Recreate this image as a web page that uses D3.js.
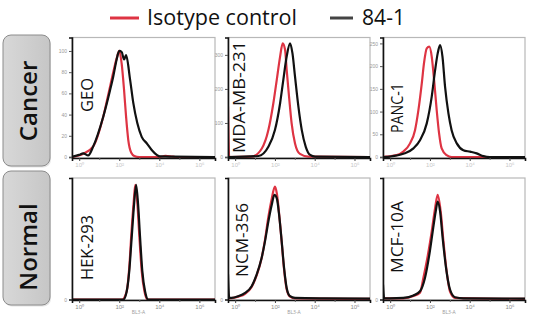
<!DOCTYPE html>
<html><head><meta charset="utf-8">
<script src="https://cdn.jsdelivr.net/npm/d3@7"></script>
<style>html,body{margin:0;padding:0;background:#fff;} svg{display:block;font-family:"Open Sans","Noto Sans",sans-serif;}</style>
</head><body><svg id="c" width="533" height="326"></svg>
<script>
// ---------------- DATA ----------------
const cellLines = ["GEO", "MDA-MB-231", "PANC-1", "HEK-293", "NCM-356", "MCF-10A"];
const groupNames = ["Cancer", "Normal"];
const seriesNames = ["Isotype control", "84-1"];
const xDomain = [-0.36, 6.78];               // log10 intensity (BL3-A)
const xTickValues = [0, 2, 4, 6];
const xMinorTicks = [1, 3, 5];
const xTickLabels = ["10⁰", "10²", "10⁴", "10⁶"];
const xAxisTitle = "BL3-A";

// y-axis maxima and ticks (counts / % of max) per panel
const yMax = [112.7, 351, 263, 106, 106, 106];
const yTicksGEO = [0, 20, 40, 60, 80, 100];
const yTicksMDA = [0, 100, 200, 300];
const yTicksPANC = [0, 50, 100, 150, 200, 250];
const yTicksNormal = [0];

// histograms: [log10 intensity, count]
const geoIsotype = [[-0.36,0],[0.2,3],[0.7,10],[1.2,38],[1.5,63],[1.7,80],[1.87,93],[2.0,100],[2.12,88],[2.24,63],[2.34,38],[2.45,16],[2.6,4],[2.75,1],[3.0,0],[4.0,0],[4.3,1],[4.6,0.5],[4.8,0],[6.78,0]];
const geo841 = [[-0.36,0],[-0.3,0.5],[0,2],[0.2,3.5],[0.45,1.5],[0.7,10],[1.2,38],[1.54,63],[1.7,76],[1.87,92],[2.0,100],[2.12,99],[2.24,92],[2.34,96],[2.54,73],[2.7,51],[2.9,32],[3.12,19],[3.37,13],[3.62,6.6],[3.87,2],[4.03,0.5],[4.7,0.3],[6.78,0]];
const mdaIsotype = [[-0.36,148],[-0.3,0],[0.83,1],[1.34,25],[1.67,79],[1.92,158],[2.09,226],[2.26,295],[2.39,334],[2.51,315],[2.59,256],[2.71,177],[2.84,99],[3.01,40],[3.26,9],[3.68,1],[6.78,0]];
const mda841 = [[-0.36,0],[1.17,3],[1.67,30],[2.0,79],[2.26,158],[2.42,226],[2.59,295],[2.76,334],[2.88,305],[3.01,236],[3.18,148],[3.35,79],[3.55,30],[3.77,6],[4.02,1],[6.78,0]];
const pancIsotype = [[-0.36,0],[-0.175,1],[0.33,4],[0.66,12],[1.0,30],[1.25,59],[1.42,103],[1.59,162],[1.70,206],[1.84,239],[1.97,243],[2.09,221],[2.21,169],[2.34,103],[2.46,52],[2.59,19],[2.84,4],[3.09,0],[6.78,0]];
const panc841 = [[-0.36,0],[-0.01,1],[0.66,7],[1.17,19],[1.5,37],[1.84,74],[2.09,133],[2.26,191],[2.39,228],[2.51,246],[2.63,221],[2.76,155],[2.93,96],[3.09,59],[3.35,30],[3.68,15],[4.02,11.7],[4.35,8],[4.69,2],[5.02,0],[6.78,0]];
const hekIsotype = [[-0.36,0],[2.15,0],[2.29,3],[2.4,10],[2.5,28],[2.6,56],[2.72,85],[2.80,100],[2.9,85],[3.0,56],[3.12,25],[3.26,7],[3.42,0],[6.78,0]];
const hek841 = [[-0.36,0],[2.2,0],[2.37,7],[2.5,25],[2.62,54],[2.74,83],[2.84,100],[2.94,83],[3.04,54],[3.15,25],[3.29,7],[3.45,0],[6.78,0]];
const ncmIsotype = [[-0.36,5],[-0.3,1],[0.16,2.5],[0.5,5],[0.83,11],[1.08,21],[1.33,36],[1.5,52],[1.67,72],[1.84,88],[2.0,98.5],[2.1,92],[2.21,75],[2.34,50],[2.46,26],[2.59,9],[2.76,2.5],[3.01,1],[6.78,0.5]];
const ncm841 = [[-0.36,22],[-0.3,1.5],[-0.18,1.4],[0.16,2.9],[0.5,5.8],[0.83,11.6],[1.08,21.7],[1.33,36.2],[1.5,50.7],[1.67,68],[1.84,82.6],[1.97,91.2],[2.09,88.4],[2.21,73.9],[2.34,50.7],[2.46,27.5],[2.59,10.1],[2.76,2.9],[3.01,1.4],[4.5,1],[6.78,0.8]];
const mcfIsotype = [[-0.36,3],[-0.3,1],[0.66,1],[1.17,3],[1.5,6],[1.67,18.8],[1.87,36.2],[2.09,59.4],[2.26,79.7],[2.39,91.2],[2.54,76.8],[2.68,50.7],[2.84,24.6],[3.01,7],[3.26,1.5],[6.78,0.5]];
const mcf841 = [[-0.36,13],[-0.3,1],[-0.01,1],[0.66,1.4],[1.17,3.5],[1.5,7.2],[1.75,18.8],[1.97,39.1],[2.14,59.4],[2.29,76.8],[2.39,85.4],[2.51,76.8],[2.64,53.6],[2.81,27.5],[3.01,8.7],[3.26,2],[3.68,1],[6.78,0.8]];

const isotypeSeries = [geoIsotype, mdaIsotype, pancIsotype, hekIsotype, ncmIsotype, mcfIsotype];
const antibodySeries = [geo841, mda841, panc841, hek841, ncm841, mcf841];
const yTickSets = [yTicksGEO, yTicksMDA, yTicksPANC, yTicksNormal, yTicksNormal, yTicksNormal];

// ---------------- LAYOUT / STYLE ----------------
const RED = "#de3443", BLACK = "#111";
const colLeft = [72, 228, 383], colW = [143, 142, 142];
const rowTop = [37.5, 178], rowZero = [157, 299.5], rowBottom = [158, 300];
// label anchor (baseline x offset from panel left, bottom y offset from panel top)
const labelPos = [[21.3, 74.5], [17, 115.5], [20.3, 95.5], [21.3, 102], [20.3, 99], [20.3, 95]];
const labelLen = [34, 112, 50, 65, 74, 72];

const svg = d3.select("#c");
const defs = svg.append("defs");
const grad = defs.append("linearGradient").attr("id", "gbox").attr("x1", 0).attr("x2", 1).attr("y1", 0).attr("y2", 0);
grad.append("stop").attr("offset", 0).attr("stop-color", "#d8d8d8");
grad.append("stop").attr("offset", 1).attr("stop-color", "#c6c6c6");

// group boxes
const boxes = [[3, 35, 47, 131], [3, 171, 47, 134]];
const boxCenters = [101, 247];
groupNames.forEach((g, i) => {
  const b = boxes[i];
  svg.append("rect").attr("x", b[0] + 1).attr("y", b[1] + 1.5).attr("width", b[2]).attr("height", b[3])
    .attr("rx", 8).attr("fill", "#e4e4e4");
  svg.append("rect").attr("x", b[0]).attr("y", b[1]).attr("width", b[2]).attr("height", b[3])
    .attr("rx", 8).attr("fill", "url(#gbox)").attr("stroke", "#8c8c8c").attr("stroke-width", 1);
  svg.append("text").attr("transform", `translate(36.5,${boxCenters[i]}) rotate(-90)`)
    .attr("text-anchor", "middle").attr("font-size", 24).attr("font-weight", 600)
    .attr("fill", "#111").text(g);
});

// legend
svg.append("line").attr("x1", 110).attr("x2", 139).attr("y1", 18).attr("y2", 18)
  .attr("stroke", RED).attr("stroke-width", 3);
svg.append("text").attr("x", 147).attr("y", 25).attr("font-size", 22).attr("font-weight", 500)
  .attr("textLength", 150).attr("lengthAdjust", "spacingAndGlyphs").attr("fill", "#111").text(seriesNames[0]);
svg.append("line").attr("x1", 330).attr("x2", 353).attr("y1", 18).attr("y2", 18)
  .attr("stroke", "#444").attr("stroke-width", 3);
svg.append("text").attr("x", 362).attr("y", 25).attr("font-size", 22).attr("font-weight", 500)
  .attr("textLength", 43).attr("lengthAdjust", "spacingAndGlyphs").attr("fill", "#111").text(seriesNames[1]);

// panels
cellLines.forEach((name, i) => {
  const col = i % 3, row = Math.floor(i / 3);
  const left = colLeft[col], w = colW[col], top = rowTop[row];
  const zero = rowZero[row] - top, h = rowBottom[row] - top;
  const g = svg.append("g").attr("transform", `translate(${left},${top})`);
  const x = d3.scaleLinear().domain(xDomain).range([0, w]);
  const y = d3.scaleLinear().domain([0, yMax[i]]).range([zero, 0]);

  defs.append("clipPath").attr("id", "clip" + i).append("rect")
    .attr("x", 0).attr("y", 0).attr("width", w).attr("height", h);

  g.append("rect").attr("x", 0).attr("y", 0).attr("width", w).attr("height", h)
    .attr("fill", "#fff").attr("stroke", "#b8b8b8").attr("stroke-width", 1.2);

  // label
  g.append("text").attr("transform", `translate(${labelPos[i][0]},${labelPos[i][1]}) rotate(-90)`)
    .attr("font-size", 16.5).attr("fill", "#111")
    .attr("textLength", labelLen[i]).attr("lengthAdjust", "spacingAndGlyphs").text(name);

  const line = d3.line().x(d => x(d[0])).y(d => y(d[1])).curve(d3.curveMonotoneX);
  const cg = g.append("g").attr("clip-path", `url(#clip${i})`);
  cg.append("path").datum(isotypeSeries[i]).attr("d", line).attr("fill", "none")
    .attr("stroke", RED).attr("stroke-width", 2.2).attr("stroke-linejoin", "round");
  cg.append("path").datum(antibodySeries[i]).attr("d", line).attr("fill", "none")
    .attr("stroke", BLACK).attr("stroke-width", 2.2).attr("stroke-linejoin", "round");

  // y axis
  const ya = g.append("g").call(d3.axisLeft(y).tickValues(yTickSets[i]).tickSize(3).tickPadding(2)
    .tickFormat(d => d === 0 ? "0" : d));
  ya.select(".domain").attr("stroke", "#111").attr("stroke-width", 1.6);
  ya.selectAll(".tick line").attr("stroke", "#555");
  ya.selectAll(".tick text").attr("font-size", 5).attr("fill", "#9a9a9a");

  // x axis
  const xa = g.append("g").attr("transform", `translate(0,${h})`)
    .call(d3.axisBottom(x).tickValues(xTickValues).tickSize(3).tickPadding(1.5)
      .tickFormat((d, k) => xTickLabels[k]));
  xa.select(".domain").attr("stroke", "#111").attr("stroke-width", 1.6);
  xa.selectAll(".tick line").attr("stroke", "#444");
  xa.selectAll(".tick text").attr("font-size", 6).attr("fill", row === 0 ? "#c8c8c8" : "#8c8c8c");
  const xm = g.append("g").attr("transform", `translate(0,${h})`)
    .call(d3.axisBottom(x).tickValues(xMinorTicks).tickSize(2).tickFormat(""));
  xm.select(".domain").remove();
  xm.selectAll(".tick line").attr("stroke", "#666");

  if (row === 1) {
    g.append("text").attr("x", w / 2 - 5).attr("y", h + 14).attr("text-anchor", "middle")
      .attr("font-size", 5).attr("fill", "#9a9a9a").text(xAxisTitle);
  }
});
</script></body></html>
